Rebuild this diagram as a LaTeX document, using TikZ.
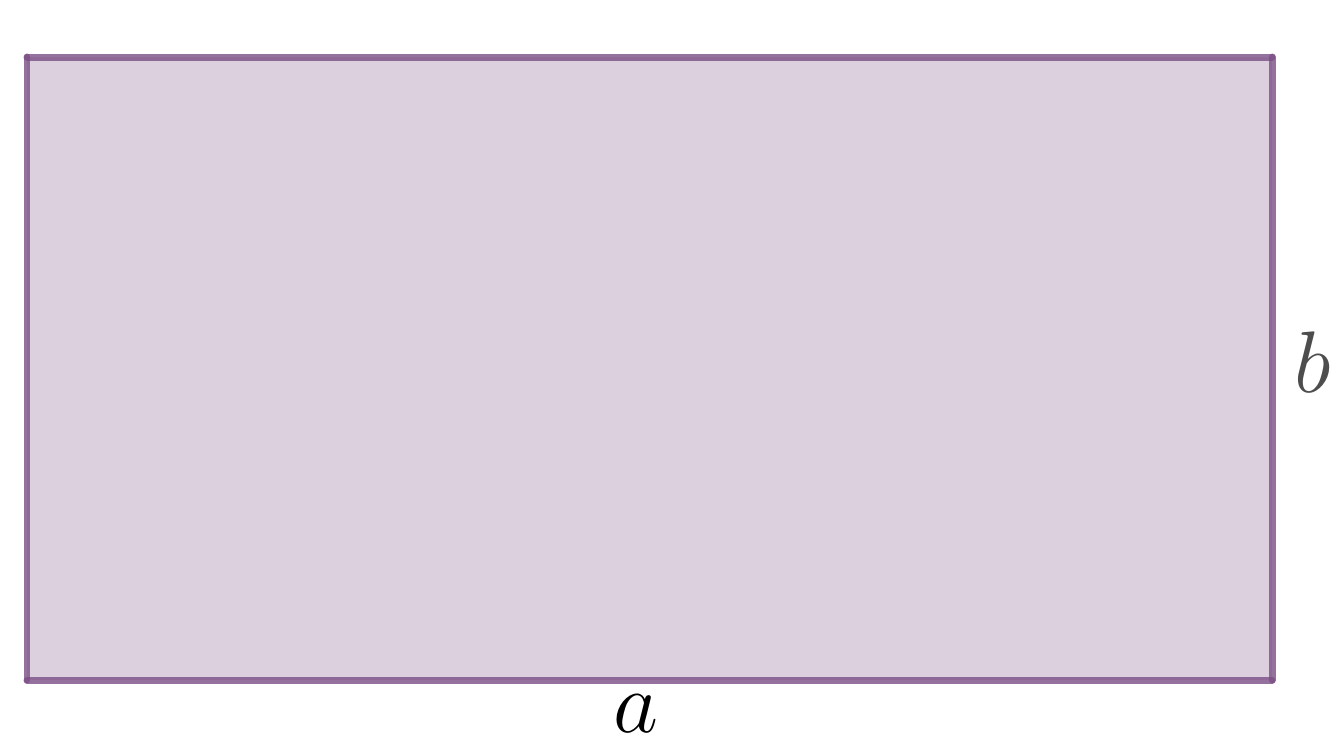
\documentclass[tikz,border=0pt]{standalone}
\definecolor{edgec}{RGB}{123,79,133}
\definecolor{fillc}{RGB}{220,208,222}
\definecolor{labc}{RGB}{77,77,77}
\tikzset{
  edge/.style={draw=edgec, draw opacity=0.8, line width=0.14cm, line cap=round},
  lab/.style={inner sep=0pt, font=\Huge, scale=2}
}
\begin{document}
\begin{tikzpicture}[x=0.02cm,y=-0.02cm]
\useasboundingbox (0,0) rectangle (1338,748);
\coordinate (A) at (27,680);
\coordinate (B) at (1272,680);
\coordinate (C) at (1272,57);
\coordinate (D) at (27,57);
\fill[fillc] (A) rectangle (C);
\draw[edge] (A) -- (B);
\draw[edge] (B) -- (C);
\draw[edge] (C) -- (D);
\draw[edge] (D) -- (A);
\node[lab, text=labc] (lb) at (1313,362) {$b$};
\node[lab] (la) at (636,714) {$a$};
\end{tikzpicture}
\end{document}
